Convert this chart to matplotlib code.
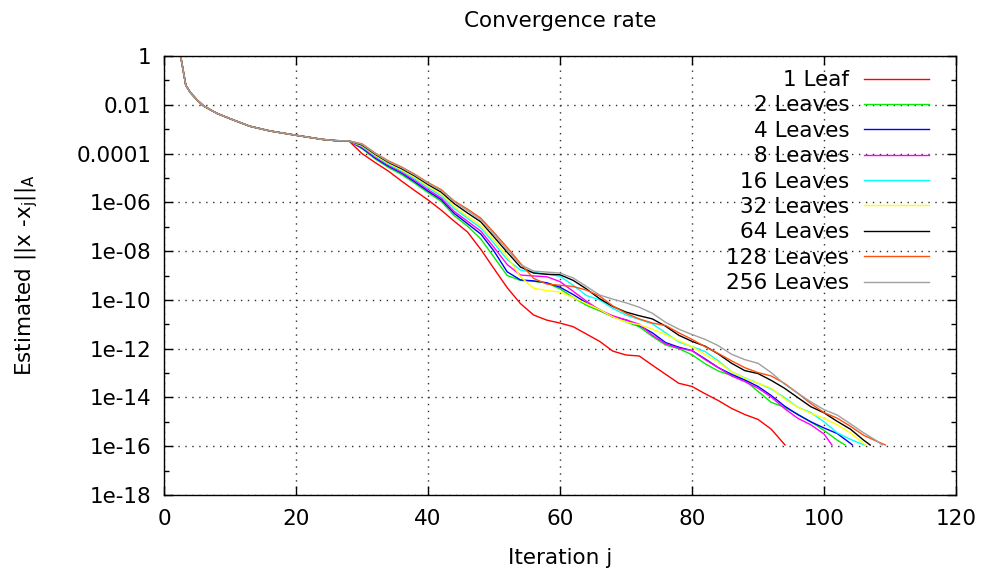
import numpy as np
import matplotlib
matplotlib.use("Agg")
import matplotlib.pyplot as plt
from matplotlib.ticker import FixedLocator, NullFormatter

# shared start of every run (iteration, log10 of estimated error)
shared_it = [2, 3.3, 4, 5, 6, 8, 10, 13, 16, 20, 24, 26]
shared_exp = [0.8, -1.2, -1.5, -1.8, -2.05, -2.35, -2.57, -2.88, -3.07, -3.25, -3.42, -3.47]

# iterations where the runs split up (every second iteration)
tail_it = [28, 30, 32, 34, 36, 38, 40, 42, 44, 46, 48, 50, 52, 54, 56, 58, 60,
           62, 64, 66, 68, 70, 72, 74, 76, 78, 80, 82, 84, 86, 88, 90, 92, 94,
           96, 98, 100, 102, 104, 106, 108]

# log10 of error per run, plus the last iteration (which hits ~1e-16)
leaf1 = [-3.48, -4.00, -4.37, -4.72, -5.13, -5.52, -5.90, -6.32, -6.78, -7.22, -7.93,
         -8.72, -9.50, -10.15, -10.62, -10.83, -10.95, -11.10, -11.40, -11.70, -12.10,
         -12.26, -12.30, -12.68, -13.05, -13.42, -13.55, -13.85, -14.13, -14.45, -14.70,
         -14.90, -15.30]
leaves2 = [-3.48, -3.80, -4.22, -4.57, -4.86, -5.22, -5.60, -5.96, -6.55, -6.98, -7.50,
           -8.25, -9.00, -9.20, -9.24, -9.30, -9.55, -9.90, -10.22, -10.45, -10.68,
           -10.90, -11.10, -11.50, -11.85, -12.00, -12.25, -12.62, -12.92, -13.10, -13.30,
           -13.75, -14.20, -14.40, -14.68, -15.00, -15.35, -15.75]
leaves4 = [-3.48, -3.77, -4.18, -4.52, -4.80, -5.16, -5.54, -5.89, -6.46, -6.88, -7.30,
           -8.00, -8.85, -9.18, -9.22, -9.30, -9.48, -9.78, -10.12, -10.40, -10.70,
           -10.82, -11.05, -11.35, -11.75, -11.94, -12.08, -12.42, -12.78, -13.05, -13.28,
           -13.55, -13.92, -14.35, -14.70, -15.00, -15.25, -15.48, -15.88]
leaves8 = [-3.48, -3.74, -4.14, -4.48, -4.76, -5.10, -5.48, -5.82, -6.38, -6.78, -7.18,
           -7.85, -8.55, -8.98, -9.02, -9.05, -9.25, -9.65, -10.05, -10.42, -10.65,
           -10.82, -11.00, -11.45, -11.80, -11.98, -12.08, -12.45, -12.78, -13.12, -13.35,
           -13.62, -13.98, -14.45, -14.85, -15.12, -15.50]
leaves16 = [-3.48, -3.70, -4.10, -4.44, -4.71, -5.04, -5.40, -5.73, -6.26, -6.66, -7.05,
            -7.68, -8.35, -8.78, -8.87, -8.95, -9.03, -9.40, -9.82, -10.00, -10.35,
            -10.62, -10.80, -10.98, -11.35, -11.72, -11.92, -12.12, -12.50, -12.95, -13.20,
            -13.42, -13.65, -14.00, -14.40, -14.62, -15.00, -15.45, -15.72]
leaves32 = [-3.48, -3.68, -4.07, -4.40, -4.67, -4.98, -5.34, -5.66, -6.18, -6.58, -6.95,
            -7.55, -8.22, -9.05, -9.52, -9.62, -9.68, -9.90, -10.15, -10.40, -10.70,
            -10.90, -11.02, -11.20, -11.42, -11.68, -11.92, -12.25, -12.55, -12.95, -13.22,
            -13.42, -13.62, -14.05, -14.40, -14.65, -14.85, -15.12, -15.45]
leaves64 = [-3.48, -3.65, -4.03, -4.36, -4.62, -4.92, -5.27, -5.58, -6.06, -6.44, -6.80,
            -7.42, -8.05, -8.65, -8.90, -8.95, -8.97, -9.20, -9.55, -9.95, -10.27,
            -10.50, -10.65, -10.78, -11.08, -11.45, -11.70, -11.90, -12.22, -12.60, -12.90,
            -13.02, -13.30, -13.62, -14.00, -14.38, -14.63, -14.98, -15.30, -15.75]
leaves128 = [-3.48, -3.60, -3.98, -4.30, -4.55, -4.85, -5.19, -5.48, -5.95, -6.28, -6.65,
             -7.24, -7.85, -8.50, -9.12, -9.35, -9.40, -9.45, -9.60, -9.84, -10.25,
             -10.55, -10.78, -10.95, -11.05, -11.35, -11.62, -11.92, -12.20, -12.50, -12.78,
             -12.98, -13.12, -13.42, -13.82, -14.25, -14.62, -14.85, -15.18, -15.55, -15.80]
leaves256 = [-3.48, -3.62, -4.00, -4.33, -4.58, -4.88, -5.22, -5.52, -5.98, -6.34, -6.72,
             -7.32, -7.95, -8.55, -8.82, -8.86, -8.90, -9.10, -9.45, -9.80, -9.97,
             -10.12, -10.30, -10.55, -10.92, -11.20, -11.42, -11.62, -11.88, -12.23, -12.45,
             -12.60, -12.98, -13.45, -13.82, -14.18, -14.50, -14.72, -15.08, -15.45, -15.78]
last_it = [94.1, 103.2, 104.3, 101.2, 106.1, 106.3, 107.0, 109.3, 108.8]
last_exp = -15.95

runs = [leaf1, leaves2, leaves4, leaves8, leaves16, leaves32, leaves64, leaves128, leaves256]
labels = ["1 Leaf", "2 Leaves", "4 Leaves", "8 Leaves", "16 Leaves", "32 Leaves",
          "64 Leaves", "128 Leaves", "256 Leaves"]
colors = ["#ff0000", "#00ee00", "#0000ff", "#ff00ff", "#00ffff", "#ffff00",
          "#000000", "#ff5010", "#a0a0a0"]

y_ticks = [1, 1e-2, 1e-4, 1e-6, 1e-8, 1e-10, 1e-12, 1e-14, 1e-16, 1e-18]
y_tick_labels = ["1", "0.01", "0.0001", "1e-06", "1e-08", "1e-10", "1e-12", "1e-14",
                 "1e-16", "1e-18"]
y_minor = [1e-1, 1e-3, 1e-5, 1e-7, 1e-9, 1e-11, 1e-13, 1e-15, 1e-17]

plt.rcParams["font.family"] = "DejaVu Sans"
plt.rcParams["font.size"] = 15.5

fig = plt.figure(figsize=(9.83, 5.74), dpi=100)
ax = fig.add_axes([164 / 983, 1 - 495 / 574, (956 - 164) / 983, (495 - 56) / 574])

for run, end_it, col, lab in zip(runs, last_it, colors, labels):
    it = shared_it + tail_it[:len(run)] + [end_it]
    err = 10.0 ** np.array(shared_exp + run + [last_exp])
    ax.plot(it, err, color=col, lw=1.0, label=lab)

ax.set_yscale("log")
ax.set_xlim(0, 120)
ax.set_ylim(1e-18, 1)
ax.xaxis.set_major_locator(FixedLocator([0, 20, 40, 60, 80, 100, 120]))
ax.yaxis.set_major_locator(FixedLocator(y_ticks))
ax.set_yticklabels(y_tick_labels)
ax.yaxis.set_minor_locator(FixedLocator(y_minor))
ax.yaxis.set_minor_formatter(NullFormatter())

ax.tick_params(which="both", direction="in", top=True, right=True, width=1)
ax.tick_params(which="major", length=6.5)
ax.tick_params(which="minor", length=3.5)
ax.tick_params(axis="y", pad=9)
ax.tick_params(axis="x", pad=10)

ax.grid(True, which="major", color="#303030", linestyle=(0, (1, 4)), lw=1)
ax.set_axisbelow(True)
for s in ax.spines.values():
    s.set_linewidth(1)

ax.set_title("Convergence rate", fontsize=15.5, pad=21)
ax.set_xlabel("Iteration j", labelpad=14)
ax.set_ylabel(r"Estimated ||x -x$_\mathregular{j}$||$_\mathregular{A}$", labelpad=26)

ax.legend(loc="upper right", bbox_to_anchor=(0.966, 0.968), frameon=False,
          markerfirst=False, handlelength=3.0, handletextpad=0.7, labelspacing=0.25,
          borderaxespad=0, borderpad=0)

plt.savefig("out.png", dpi=100)
